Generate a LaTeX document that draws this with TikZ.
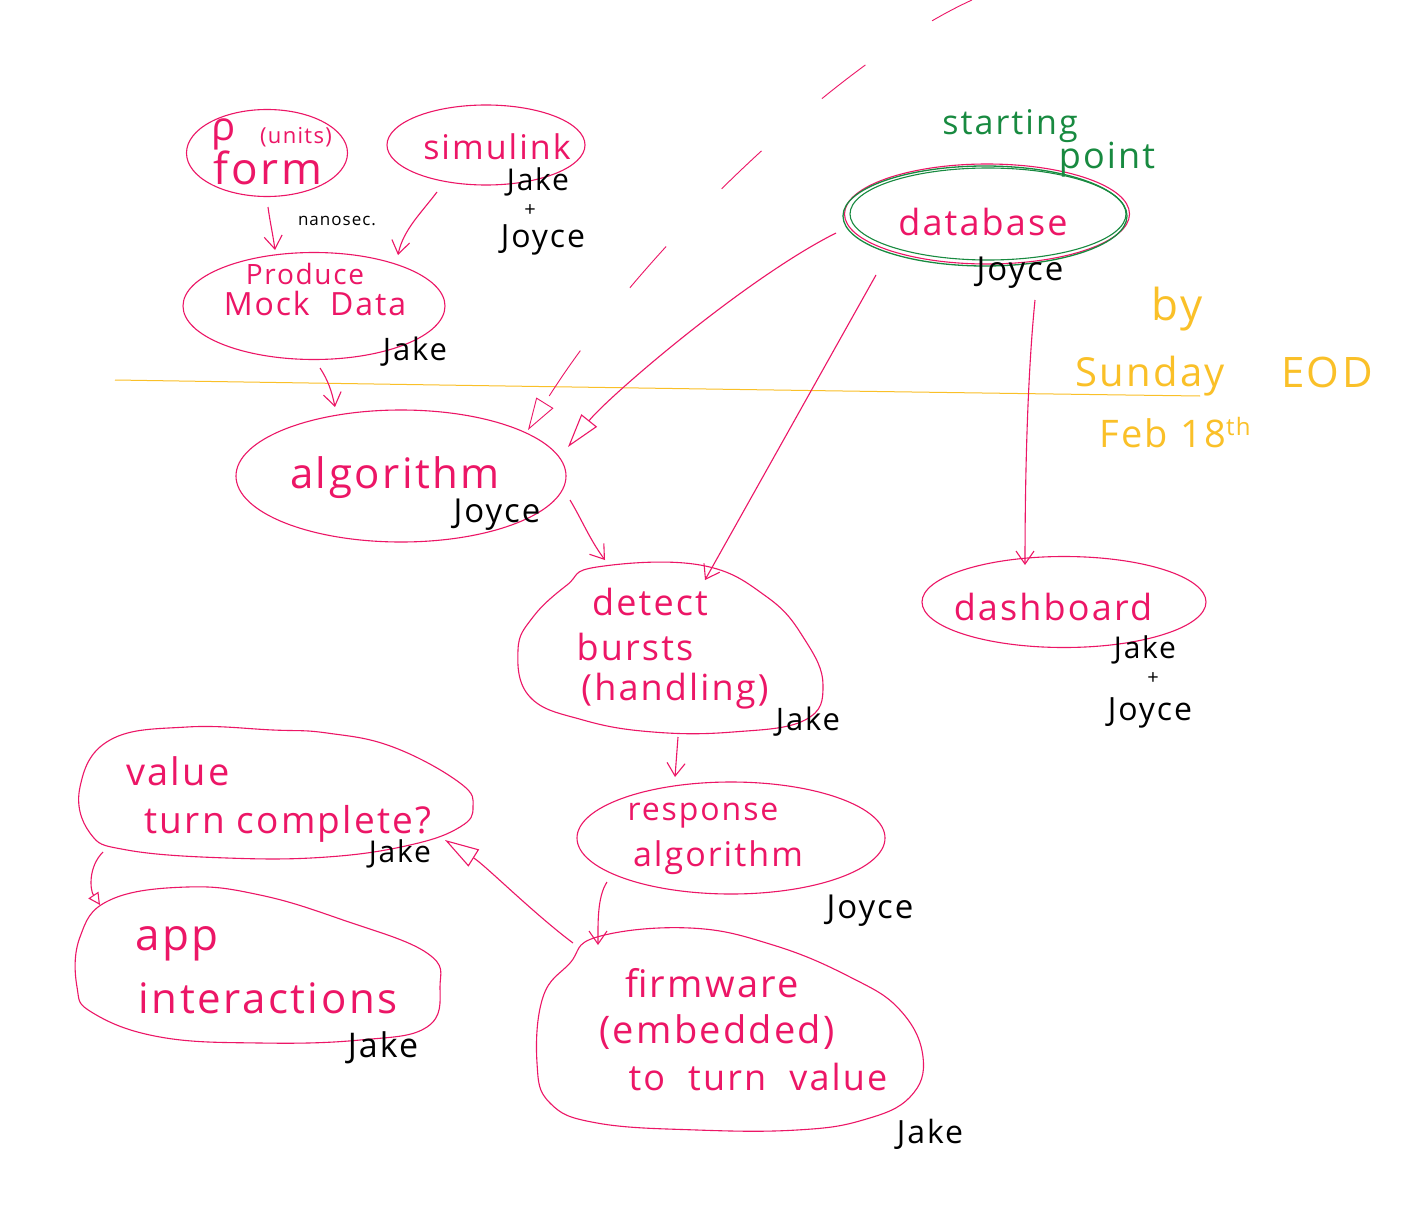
\documentclass[tikz,border=0pt]{standalone}
\usepackage{fontspec}
\setmainfont{Open Sans}
\newfontfamily\hand[LetterSpace=6]{Open Sans}
\usetikzlibrary{shapes.geometric,arrows.meta,calc}
\definecolor{pinkc}{RGB}{236,22,102}
\definecolor{greenc}{RGB}{24,138,64}
\definecolor{yelc}{RGB}{250,192,40}
\tikzset{
  ell/.style={ellipse, draw=pinkc, line width=1.1pt, inner sep=0pt},
  hid/.style={ellipse, draw=none, inner sep=0pt},
  blob/.style={draw=pinkc, line width=1.1pt},
  ptx/.style={text=pinkc, anchor=base, inner sep=0pt, font=\hand\fontsize{#1}{#1}\selectfont},
  ntx/.style={text=black, anchor=base, inner sep=0pt, font=\hand\fontsize{#1}{#1}\selectfont},
  gtx/.style={text=greenc, anchor=base, inner sep=0pt, font=\hand\fontsize{#1}{#1}\selectfont},
  ytx/.style={text=yelc, anchor=base, inner sep=0pt, font=\hand\fontsize{#1}{#1}\selectfont},
  arr/.style={draw=pinkc, line width=1.1pt, -{Straight Barb[length=13pt,width=18pt]}},
  arro/.style={draw=pinkc, line width=1.1pt, -{Triangle[open,length=34pt,width=20pt]}},
  arrs/.style={draw=pinkc, line width=1.1pt, -{Triangle[open,length=12pt,width=12pt]}},
  dsh/.style={draw=pinkc, line width=0.9pt, dash pattern=on 55pt off 80pt, dash phase=10pt, -{Triangle[open,length=32pt,width=20pt]}},
}
\begin{document}
\begin{tikzpicture}[x=1pt,y=-1pt]
\useasboundingbox[fill=white] (0,0) rectangle (1420,1209);

% yellow deadline line
\draw[yelc, line width=1pt] (115,380) .. controls (500,386) and (900,392) .. (1200,396);

% shapes
\node[ell, minimum width=161pt, minimum height=87pt] (form) at (267,153) {};
\node[ell, minimum width=198pt, minimum height=80pt] (simulink) at (486,145) {};
\node[ell, minimum width=262pt, minimum height=107pt] (produce) at (314,306) {};
\node[ell, minimum width=330pt, minimum height=132pt] (algorithm) at (401,476) {};
\node[ell, minimum width=285pt, minimum height=100pt] (database) at (987,214) {};
\node[ell, minimum width=284pt, minimum height=91pt] (dashboard) at (1064,602) {};
\node[ell, minimum width=308pt, minimum height=112pt] (response) at (731,838) {};
\node[hid, minimum width=307pt, minimum height=170pt] (detect) at (670,648) {};
\node[hid, minimum width=387pt, minimum height=205pt] (firmware) at (731,1028) {};
\node[hid, minimum width=393pt, minimum height=132pt] (value) at (276,794) {};
\node[hid, minimum width=366pt, minimum height=162pt] (app) at (259,966) {};

\draw[blob] plot[smooth cycle, tension=0.7] coordinates {(597,567) (700,565) (767,597) (805,640) (823,685) (805,720) (733,732) (653,732) (583,720) (530,697) (518,650) (533,617) (567,585)};
\draw[blob] plot[smooth cycle, tension=0.7] coordinates {(597,937) (690,928) (773,945) (850,977) (900,1010) (923,1057) (910,1097) (863,1120) (797,1130) (697,1130) (597,1123) (550,1103) (537,1063) (543,997) (570,963)};
\draw[blob] plot[smooth cycle, tension=0.7] coordinates {(273,730) (187,727) (110,740) (80,787) (90,833) (127,850) (227,858) (327,857) (410,845) (460,827) (473,807) (460,783) (393,747) (327,733)};
\draw[blob] plot[smooth cycle, tension=0.7] coordinates {(260,895) (187,887) (110,900) (80,937) (77,987) (93,1013) (160,1037) (260,1043) (360,1040) (427,1027) (440,987) (427,953) (343,920)};

% green starting point ring
\draw[greenc, line width=1.3pt] (985,216) ellipse [x radius=142, y radius=50];
\draw[greenc, line width=1.1pt] (988,214) ellipse [x radius=138, y radius=46];

% pink texts
\node[ptx=40] (rho) at (224,141) {ρ};
\node[ptx=22] (units) at (296,144) {(units)};
\node[ptx=44] (formt) at (268,185) {form};
\node[ptx=34] (simt) at (497,160) {simulink};
\node[ptx=28] (prodt) at (305,284) {Produce};
\node[ptx=32] (mockt) at (315,315) {Mock\ \ Data};
\node[ptx=42] (algt) at (395,488) {algorithm};
\node[ptx=36] (dbt) at (983,235) {database};
\node[ptx=36] (dett) at (650,615) {detect};
\node[ptx=36] (burt) at (635,660) {bursts};
\node[ptx=36] (hant) at (675,700) {(handling)};
\node[ptx=36] (dasht) at (1053,620) {dashboard};
\node[ptx=32] (respt) at (703,820) {response};
\node[ptx=34] (ralgt) at (718,866) {algorithm};
\node[ptx=38] (firmt) at (712,997) {firmware};
\node[ptx=38] (embt) at (717,1043) {(embedded)};
\node[ptx=36] (turnt) at (758,1090) {to\ \ turn\ \ value};
\node[ptx=38] (valt) at (178,785) {value};
\node[ptx=37] (compt) at (288,833) {turn complete?};
\node[ptx=44] (appt) at (177,950) {app};
\node[ptx=42] (intt) at (268,1013) {interactions};

% owner names
\node[ntx=17] (nano) at (337,225) {nanosec.};
\node[ntx=30] (n1a) at (538,190) {Jake};
\node[ntx=20] (n1b) at (530,216) {+};
\node[ntx=32] (n1c) at (543,247) {Joyce};
\node[ntx=31] (n2) at (415,360) {Jake};
\node[ntx=33] (n3) at (497,522) {Joyce};
\node[ntx=33] (n4) at (1020,280) {Joyce};
\node[ntx=31] (n5) at (808,730) {Jake};
\node[ntx=30] (n6a) at (1145,658) {Jake};
\node[ntx=20] (n6b) at (1153,684) {+};
\node[ntx=32] (n6c) at (1150,720) {Joyce};
\node[ntx=33] (n7) at (870,918) {Joyce};
\node[ntx=32] (n8) at (930,1143) {Jake};
\node[ntx=30] (n9) at (400,862) {Jake};
\node[ntx=34] (n10) at (383,1057) {Jake};

% green and yellow notes
\node[gtx=34] (start1) at (1010,135) {starting};
\node[gtx=36] (start2) at (1107,168) {point};
\node[ytx=44] (by) at (1177,320) {by};
\node[ytx=40] (sunday) at (1150,386) {Sunday};
\node[ytx=42] (eod) at (1327,387) {EOD};
\node[ytx=38] (feb) at (1175,447) {Feb 18\raisebox{12pt}{\fontsize{24}{24}\selectfont th}};

% connectors
\coordinate (dstart) at (972,0);
\draw[arr] ($(form)+(1,54)$) .. controls +(2,15) and +(-2,-15) .. ($(produce)+(-39,-56)$);
\draw[arr] ($(simulink)+(-49,47)$) .. controls +(-15,20) and +(5,-25) .. ($(produce)+(84,-51)$);
\draw[arr] ($(produce)+(6,62)$) .. controls +(8,12) and +(-3,-15) .. ($(algorithm)+(-66,-69)$);
\draw[arro] ($(database)+(-151,19)$) .. controls +(-90,45) and +(40,-50) .. ($(algorithm)+(167,-29)$);
\draw[arr] ($(database)+(-111,61)$) -- ($(detect)+(35,-68)$);
\draw[arr] ($(database)+(48,86)$) .. controls +(-8,80) and +(0,-80) .. ($(dashboard)+(-39,-37)$);
\draw[arr] ($(algorithm)+(169,24)$) .. controls +(12,20) and +(-15,-20) .. ($(detect)+(-65,-88)$);
\draw[arr] ($(detect)+(8,89)$) -- ($(response)+(-56,-61)$);
\draw[arr] ($(response)+(-124,44)$) .. controls +(-10,15) and +(0,-20) .. ($(firmware)+(-133,-83)$);
\draw[arro] ($(firmware)+(-158,-85)$) .. controls +(-40,-30) and +(40,25) .. ($(value)+(169,46)$);
\draw[arrs] ($(value)+(-173,58)$) .. controls +(-15,15) and +(-10,-15) .. ($(app)+(-159,-61)$);
\draw[dsh] (dstart) .. controls +(-132,60) and +(112,-180) .. ($(algorithm)+(127,-46)$);
\end{tikzpicture}
\end{document}
